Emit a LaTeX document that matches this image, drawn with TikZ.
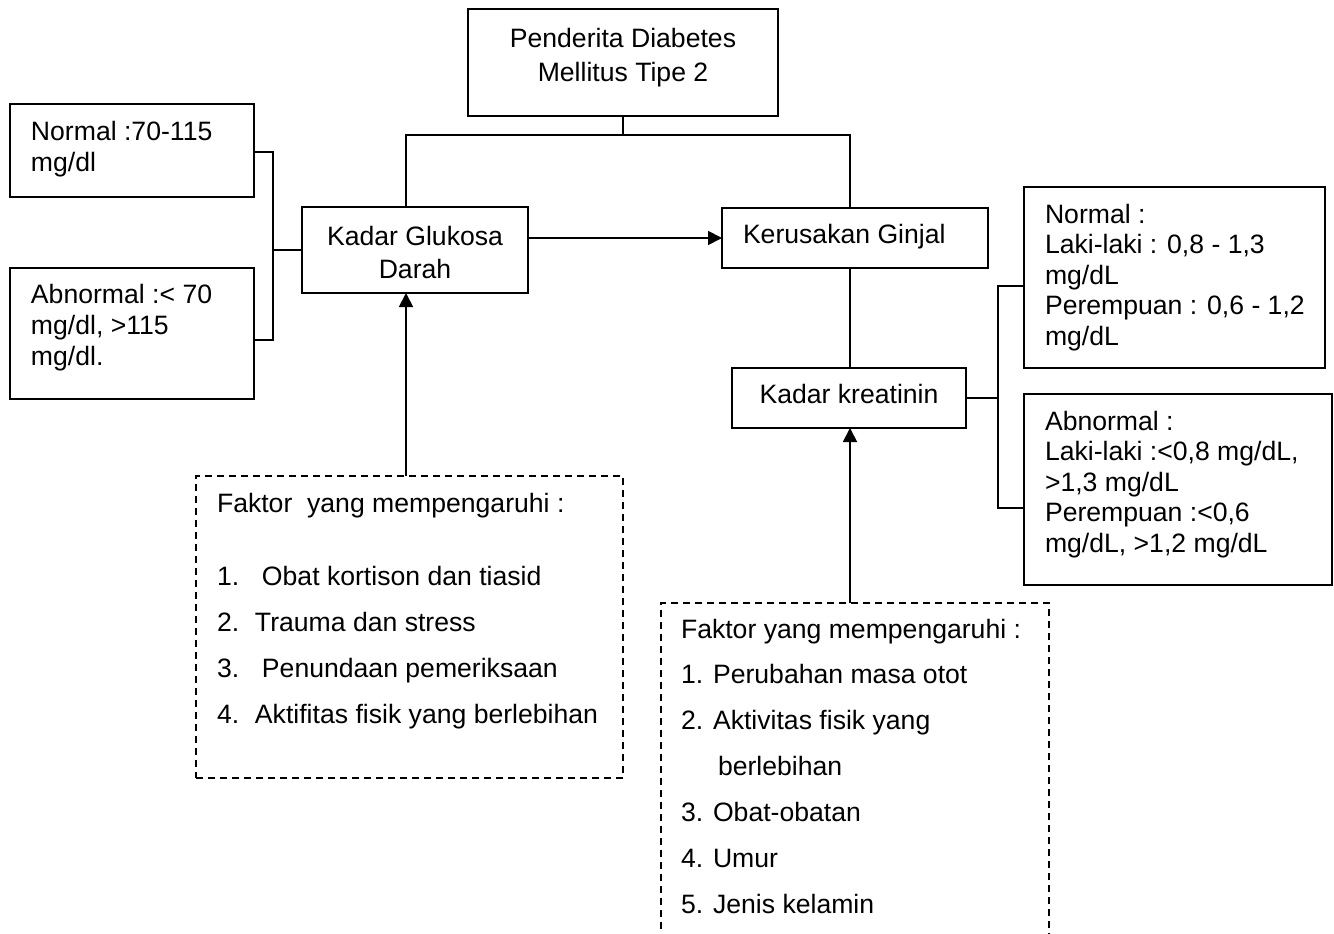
\documentclass[tikz,border=0pt]{standalone}
\usepackage{fontspec}
\setmainfont{Liberation Sans}
\usetikzlibrary{arrows.meta}
\begin{document}
\begin{tikzpicture}[x=0.5pt,y=-0.5pt,
 box/.style={draw, line width=0.7pt, inner sep=0pt, outer sep=0pt},
 dbox/.style={draw, line width=0.7pt, dash pattern=on 3.5pt off 2.5pt, inner sep=0pt, outer sep=0pt},
 txt/.style={inner sep=0pt, outer sep=0pt, anchor=base west, font=\fontsize{13.3}{16}\selectfont},
 ctxt/.style={txt, anchor=base},
 con/.style={line width=0.9pt},
 arr/.style={con, -{Triangle[length=7pt,width=7pt]}}]
\useasboundingbox (0,0) rectangle (1334,933);
\clip (0,0) rectangle (1334,933);
% boxes
\node[box, minimum width=155pt, minimum height=53.5pt] (top) at (623,62.5) {};
\node[box, minimum width=113pt, minimum height=43pt] (glu) at (415,250) {};
\node[box, minimum width=122pt, minimum height=46.5pt] (nl) at (132,150.5) {};
\node[box, minimum width=122pt, minimum height=65.5pt] (al) at (132,333.5) {};
\node[box, minimum width=133pt, minimum height=30pt] (ker) at (855,238) {};
\node[box, minimum width=117pt, minimum height=30pt] (kre) at (849,398) {};
\node[box, minimum width=150.5pt, minimum height=90.5pt] (nr) at (1174.5,277.5) {};
\node[box, minimum width=154pt, minimum height=95.5pt] (ar) at (1178,489.5) {};
\node[dbox, minimum width=213.5pt, minimum height=151pt] (f1) at (409.5,627) {};
\node[dbox, minimum width=194pt, minimum height=178.5pt] (f2) at (855,781.5) {};
% texts
\node[ctxt] (t1) at (623,47) {Penderita Diabetes};
\node[ctxt] (t2) at (623,81) {Mellitus Tipe 2};
\node[ctxt] (g1) at (415,245) {Kadar Glukosa};
\node[ctxt] (g2) at (415,278) {Darah};
\node[txt] (n1) at (31,140) {Normal :70-115};
\node[txt] (n2) at (31,171) {mg/dl};
\node[txt] (a1) at (31,303) {Abnormal :< 70};
\node[txt] (a2) at (31,334) {mg/dl, >115};
\node[txt] (a3) at (31,365) {mg/dl.};
\node[txt] (k1) at (743,243) {Kerusakan Ginjal};
\node[ctxt] (k2) at (849,403) {Kadar kreatinin};
\node[txt] (r1) at (1045,223) {Normal :};
\node[txt] (r2) at (1045,253.5) {Laki-laki : 0,8 - 1,3};
\node[txt] (r3) at (1045,284) {mg/dL};
\node[txt] (r4) at (1045,314.5) {Perempuan : 0,6 - 1,2};
\node[txt] (r5) at (1045,345) {mg/dL};
\node[txt] (s1) at (1045,430) {Abnormal :};
\node[txt] (s2) at (1045,460.5) {Laki-laki :<0,8 mg/dL,};
\node[txt] (s3) at (1045,491) {>1,3 mg/dL};
\node[txt] (s4) at (1045,521.5) {Perempuan :<0,6};
\node[txt] (s5) at (1045,552) {mg/dL, >1,2 mg/dL};
\node[txt] (p0) at (217,512) {Faktor\ \ yang mempengaruhi :};
\node[txt] (p1) at (217,585) {\makebox[22.5pt][l]{1.}Obat kortison dan tiasid};
\node[txt] (p2) at (217,631) {\makebox[19pt][l]{2.}Trauma dan stress};
\node[txt] (p3) at (217,677) {\makebox[22.5pt][l]{3.}Penundaan pemeriksaan};
\node[txt] (p4) at (217,723) {\makebox[19pt][l]{4.}Aktifitas fisik yang berlebihan};
\node[txt] (q0) at (681,638) {Faktor yang mempengaruhi :};
\node[txt] (q1) at (681,683.5) {1. Perubahan masa otot};
\node[txt] (q2) at (681,729.5) {2. Aktivitas fisik yang};
\node[txt] (q3) at (718,775) {berlebihan};
\node[txt] (q4) at (681,821) {3. Obat-obatan};
\node[txt] (q5) at (681,867) {4. Umur};
\node[txt] (q6) at (681,913) {5. Jenis kelamin};
% connectors
\coordinate (jt) at (623,135);
\coordinate (jl) at (406,135);
\coordinate (jr) at (850,135);
\draw[con] (top.south) -- (jt);
\draw[con] (glu.north -| jl) -- (jl) -- (jr) -- (ker.north -| jr);
\coordinate (bl1) at (273,152);
\coordinate (bl2) at (273,340);
\draw[con] (nl.east |- bl1) -- (bl1) -- (bl2) -- (al.east |- bl2);
\draw[con] (glu.west) -- (glu.west -| bl1);
\draw[arr] (ker.west -| glu.east) -- (ker.west);
\draw[con] (ker.south -| jr) -- (kre.north -| jr);
\coordinate (br1) at (998,286);
\coordinate (br2) at (998,508);
\draw[con] (nr.west |- br1) -- (br1) -- (br2) -- (ar.west |- br2);
\draw[con] (kre.east) -- (kre.east -| br1);
\draw[arr] (f1.north -| jl) -- (glu.south -| jl);
\draw[arr] (f2.north -| jr) -- (kre.south -| jr);
\end{tikzpicture}
\end{document}
